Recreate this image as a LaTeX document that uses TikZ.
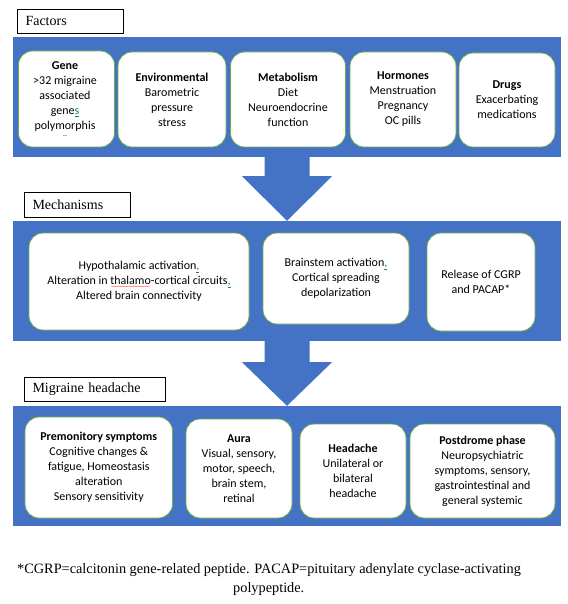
\documentclass[tikz,border=0pt]{standalone}
\usepackage{fontspec}
\setmainfont{Carlito}
\newfontfamily\tnr{Liberation Serif}
\usetikzlibrary{calc}
\definecolor{mblue}{HTML}{4472C4}
\definecolor{mgreen}{HTML}{70AD47}
\definecolor{lnk}{HTML}{1F7A8C}
\newcommand\redwave[1]{\setbox0\hbox{#1}\rlap{\raisebox{-4pt}[0pt][0pt]{\color{red}\fontsize{6}{6}\selectfont\cleaders\hbox{\char"007E}\hskip\wd0}}\box0}
\begin{document}
\begin{tikzpicture}[x=1pt,y=-1pt,
  band/.style={rectangle,fill=mblue,draw=none,inner sep=0pt,minimum width=548pt,minimum height=120pt},
  card/.style={rectangle,rounded corners=14pt,fill=white,draw=mgreen,line width=0.8pt,align=center,inner sep=1pt,font=\fontsize{12}{15}\selectfont},
  lbl/.style={rectangle,draw=black,line width=0.8pt,fill=white,inner ysep=0pt,inner xsep=8.5pt,align=left,font=\tnr\fontsize{14}{16}\selectfont},
  arrowfill/.style={fill=mblue,draw=none},
  foot/.style={inner sep=0pt,font=\tnr\fontsize{14.3}{16}\selectfont}]
\useasboundingbox (0,0) rectangle (567,604);

% bands
\node[band] (b1) at (287,97) {};
\node[band] (b2) at (287,281) {};
\node[band] (b3) at (287,466) {};

% arrows between bands
\fill[arrowfill] ($(b1.south)+(-22.5,-0.5)$) -- ($(b1.south)+(22.5,-0.5)$) -- ($(b1.south)+(22.5,19)$)
  -- ($(b1.south)+(45,19)$) -- (b2.north) -- ($(b1.south)+(-45,19)$) -- ($(b1.south)+(-22.5,19)$) -- cycle;
\fill[arrowfill] ($(b2.south)+(-22.5,-0.5)$) -- ($(b2.south)+(22.5,-0.5)$) -- ($(b2.south)+(22.5,21)$)
  -- ($(b2.south)+(45,21)$) -- (b3.north) -- ($(b2.south)+(-45,21)$) -- ($(b2.south)+(-22.5,21)$) -- cycle;

% section labels
\node[lbl,minimum width=106pt,minimum height=24pt,text width=89pt] (l1) at (70,21) {Factors};
\node[lbl,minimum width=106pt,minimum height=25pt,text width=89pt] (l2) at (77,204.5) {Mechanisms};
\node[lbl,minimum width=141pt,minimum height=24pt,text width=124pt] (l3) at (94.5,389) {Migraine\ headache};

% factors
\node[card,minimum width=96pt,minimum height=96pt] (f1) at (66.5,99) {};
\node[inner sep=0pt,align=center,font=\fontsize{12}{15}\selectfont] (f1t) at (65,96.7)
  {\textbf{Gene}\\ {>}32 migraine\\ associated\\ gene\textcolor{lnk}{\underline{s}}\\ polymorphis};
\node[inner sep=0pt,font=\fontsize{6}{6}\selectfont] (f1x) at (65,136.5) {-\kern0.3pt-};
\node[card,minimum width=108pt,minimum height=95pt] (f2) at (172,99.5) {\textbf{Environmental}\\ Barometric\\ pressure\\ stress};
\node[card,minimum width=115pt,minimum height=95pt] (f3) at (288,99.5) {\textbf{Metabolism}\\ Diet\\ Neuroendocrine\\ function};
\node[card,minimum width=106pt,minimum height=95pt] (f4) at (403,99.5) {\textbf{Hormones}\\ Menstruation\\ Pregnancy\\ OC pills};
\node[card,minimum width=96pt,minimum height=94pt] (f5) at (507,100) {\textbf{Drugs}\\ Exacerbating\\ medications};

% mechanisms
\node[card,minimum width=220pt,minimum height=97pt] (m1) at (139,281.5)
  {Hypothalamic activation\textcolor{lnk}{\underline{,}}\\ Alteration in \redwave{thalamo}-cortical circuits\textcolor{lnk}{\underline{,}}\\ Altered brain connectivity};
\node[card,minimum width=146pt,minimum height=91pt] (m2) at (336,278.5)
  {Brainstem activation\textcolor{lnk}{\underline{,}}\\ Cortical spreading\\ depolarization};
\node[card,minimum width=108pt,minimum height=98pt] (m3) at (481,282) {Release of CGRP\\ and PACAP*};

% migraine headache
\node[card,minimum width=147.5pt,minimum height=101pt] (p1) at (98.75,467.5)
  {\textbf{Premonitory symptoms}\\ Cognitive changes \&\\ fatigue, Homeostasis\\ alteration\\ Sensory sensitivity};
\node[card,minimum width=106pt,minimum height=99pt] (p2) at (239,468.5)
  {\textbf{Aura}\\ Visual, sensory,\\ motor, speech,\\ brain stem,\\ retinal};
\node[card,minimum width=106pt,minimum height=94pt] (p3) at (353,471)
  {\textbf{Headache}\\ Unilateral or\\ bilateral\\ headache};
\node[card,minimum width=145pt,minimum height=94pt] (p4) at (482.5,471)
  {\textbf{Postdrome phase}\\ Neuropsychiatric\\ symptoms, sensory,\\ gastrointestinal and\\ general systemic};

% footnote
\node[foot,anchor=base west] (fn1) at (17,573) {*CGRP=calcitonin gene-related peptide. PACAP=pituitary adenylate cyclase-activating};
\node[foot,anchor=base west] (fn2) at (233,592) {polypeptide.};
\end{tikzpicture}
\end{document}
